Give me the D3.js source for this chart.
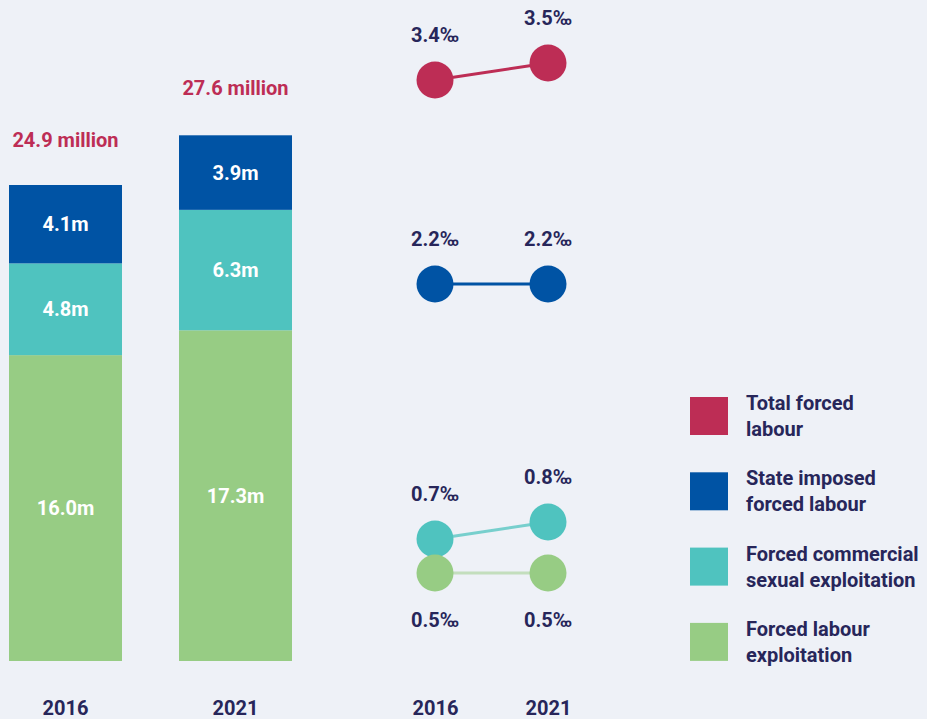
<!DOCTYPE html>
<html>
<head>
<meta charset="utf-8">
<script src="https://cdn.jsdelivr.net/npm/d3@7"></script>
<style>
  html, body { margin: 0; padding: 0; background: #eef1f7; }
  svg { display: block; font-family: Roboto, "Noto Sans", sans-serif; font-weight: 700; }
</style>
</head>
<body>
<svg id="chart" width="927" height="719"></svg>
<script>
// ---- data ----
const years = ["2016", "2021"];
const categories = ["Forced labour exploitation", "Forced commercial sexual exploitation", "State imposed forced labour"];
const labourExploitation = [16.0, 17.3];      // millions
const commercialSexual = [4.8, 6.3];          // millions
const stateImposed = [4.1, 3.9];              // millions
const totals = [24.9, 27.6];                  // millions
const totalLabels = ["24.9 million", "27.6 million"];

const rateSeries = ["Total forced labour", "State imposed forced labour", "Forced commercial sexual exploitation", "Forced labour exploitation"];
const rateTotal = [3.4, 3.5];        // per thousand
const rateState = [2.2, 2.2];
const rateCommercial = [0.7, 0.8];
const rateExploitation = [0.5, 0.5];

const legendLabels = [["Total forced", "labour"], ["State imposed", "forced labour"], ["Forced commercial", "sexual exploitation"], ["Forced labour", "exploitation"]];

// ---- styles ----
const colors = { total: "#bd2d55", state: "#0053a4", commercial: "#4fc3bf", exploitation: "#97cc84" };
const textDark = "#27265a";

const svg = d3.select("#chart");

// ---- stacked bars ----
const stackData = years.map((y, i) => ({
  year: y,
  exploitation: labourExploitation[i],
  commercial: commercialSexual[i],
  state: stateImposed[i]
}));
const keys = ["exploitation", "commercial", "state"];
const stack = d3.stack().keys(keys)(stackData);

const x = d3.scaleBand().domain(years).range([9, 292]).paddingInner(57 / 170).paddingOuter(0);
const y = d3.scaleLinear().domain([0, 24.9]).range([661, 185]);

const layers = svg.append("g").selectAll("g").data(stack).join("g")
  .attr("fill", d => colors[d.key]);

layers.selectAll("rect").data(d => d.map(v => ({ v, key: d.key }))).join("rect")
  .attr("x", d => x(d.v.data.year))
  .attr("width", x.bandwidth())
  .attr("y", d => y(d.v[1]))
  .attr("height", d => y(d.v[0]) - y(d.v[1]));

layers.selectAll("text").data(d => d.map(v => ({ v, key: d.key }))).join("text")
  .attr("x", d => x(d.v.data.year) + x.bandwidth() / 2)
  .attr("y", d => (y(d.v[0]) + y(d.v[1])) / 2)
  .attr("dy", "0.35em")
  .attr("text-anchor", "middle")
  .attr("fill", "#ffffff")
  .attr("font-size", 20)
  .text(d => d.v.data[d.key].toFixed(1) + "m");

svg.append("g").selectAll("text").data(years).join("text")
  .attr("x", (d) => x(d) + x.bandwidth() / 2)
  .attr("y", (d, i) => y(totals[i]) - 38)
  .attr("text-anchor", "middle")
  .attr("fill", colors.total)
  .attr("font-size", 20)
  .text((d, i) => totalLabels[i]);

// year axis for bars
const xAxisBars = svg.append("g").attr("transform", "translate(0,715)")
  .call(d3.axisBottom(x).tickSize(0).tickPadding(0));
xAxisBars.select(".domain").remove();
xAxisBars.selectAll("text").attr("y", 0).attr("dy", 0)
  .attr("font-family", "Roboto, 'Noto Sans', sans-serif").attr("font-weight", 700)
  .attr("font-size", 20).attr("fill", textDark);

// ---- dot plot of prevalence ----
const x2 = d3.scalePoint().domain(years).range([435, 548]);
const y2 = d3.scaleLinear().domain([0, 3.5]).range([658, 63]);

const rates = [
  { key: "total", values: rateTotal, lineColor: colors.total, lineOpacity: 1, above: true },
  { key: "state", values: rateState, lineColor: colors.state, lineOpacity: 1, above: true },
  { key: "commercial", values: rateCommercial, lineColor: colors.commercial, lineOpacity: 0.75, above: true },
  { key: "exploitation", values: rateExploitation, lineColor: colors.exploitation, lineOpacity: 0.5, above: false }
];

const line = d3.line().x((d, i) => x2(years[i])).y(d => y2(d));

const rg = svg.append("g");
rates.forEach(r => {
  const g = rg.append("g");
  g.append("path").datum(r.values)
    .attr("d", line)
    .attr("fill", "none")
    .attr("stroke", r.lineColor)
    .attr("stroke-opacity", r.lineOpacity)
    .attr("stroke-width", 3);
  g.selectAll("circle").data(r.values).join("circle")
    .attr("cx", (d, i) => x2(years[i]))
    .attr("cy", d => y2(d))
    .attr("r", 18.5)
    .attr("fill", colors[r.key]);
  g.selectAll("text").data(r.values).join("text")
    .attr("x", (d, i) => x2(years[i]))
    .attr("y", d => r.above ? y2(d) - 38 : y2(d) + 54)
    .attr("text-anchor", "middle")
    .attr("fill", textDark)
    .attr("font-size", 20)
    .text(d => d.toFixed(1) + "‰");
});

const xAxisDots = svg.append("g").attr("transform", "translate(0,715)")
  .call(d3.axisBottom(x2).tickSize(0).tickPadding(0));
xAxisDots.select(".domain").remove();
xAxisDots.selectAll("text").attr("y", 0).attr("dy", 0)
  .attr("font-family", "Roboto, 'Noto Sans', sans-serif").attr("font-weight", 700)
  .attr("font-size", 20).attr("fill", textDark);

// ---- legend ----
const legendColors = [colors.total, colors.state, colors.commercial, colors.exploitation];
const legend = svg.append("g");
const li = legend.selectAll("g").data(rateSeries).join("g")
  .attr("transform", (d, i) => `translate(690,${397 + i * 75.3})`);
li.append("rect").attr("width", 38).attr("height", 38).attr("fill", (d, i) => legendColors[i]);
li.each(function (d, i) {
  const t = d3.select(this).append("text")
    .attr("x", 56).attr("y", 13)
    .attr("fill", textDark).attr("font-size", 20);
  legendLabels[i].forEach((ln, j) => {
    t.append("tspan").attr("x", 56).attr("y", 13 + j * 26).text(ln);
  });
});
</script>
</body>
</html>
